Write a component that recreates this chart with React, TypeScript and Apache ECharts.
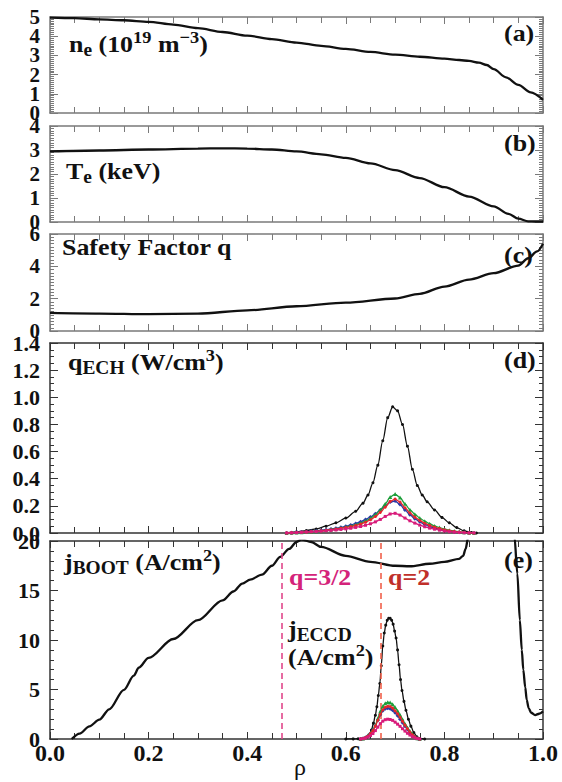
import React, { useEffect, useRef } from 'react';
import * as echarts from 'echarts';

const FONT = 'Liberation Serif';

// ---------- (a) electron density ----------
const neRho = [0, 0.05, 0.1, 0.15, 0.2, 0.25, 0.3, 0.35, 0.4, 0.45, 0.5, 0.55, 0.6, 0.65, 0.7, 0.75, 0.8, 0.83, 0.85, 0.87, 0.886, 0.9, 0.925, 0.95, 0.975, 1.0];
const neVal = [4.97, 4.94, 4.88, 4.83, 4.75, 4.6, 4.42, 4.22, 4.03, 3.85, 3.67, 3.5, 3.34, 3.18, 3.04, 2.93, 2.83, 2.76, 2.71, 2.62, 2.5, 2.28, 1.86, 1.46, 1.07, 0.68];

// ---------- (b) electron temperature ----------
const teRho = [0, 0.1, 0.2, 0.3, 0.35, 0.4, 0.45, 0.5, 0.55, 0.6, 0.65, 0.7, 0.75, 0.8, 0.85, 0.9, 0.93, 0.95, 0.97, 0.985, 1.0];
const teVal = [2.94, 2.98, 3.02, 3.06, 3.07, 3.06, 3.02, 2.94, 2.82, 2.67, 2.44, 2.16, 1.83, 1.45, 1.06, 0.65, 0.34, 0.14, 0.03, 0.02, 0.02];

// ---------- (c) safety factor ----------
const qRho = [0, 0.1, 0.2, 0.3, 0.4, 0.5, 0.6, 0.7, 0.75, 0.8, 0.85, 0.9, 0.95, 0.97, 0.988, 1.0];
const qVal = [1.12, 1.08, 1.04, 1.07, 1.28, 1.53, 1.76, 2.01, 2.3, 2.75, 3.18, 3.58, 4.05, 4.5, 4.92, 5.4];

// ---------- (d) ECH power density ----------
const echRho = [0.48, 0.5, 0.52, 0.54, 0.56, 0.58, 0.6, 0.62, 0.635, 0.645, 0.655, 0.665, 0.675, 0.685, 0.695, 0.705, 0.715, 0.725, 0.735, 0.745, 0.755, 0.765, 0.78, 0.795, 0.81, 0.825, 0.84, 0.855, 0.865];
const echBlack = [0, 0.008, 0.018, 0.03, 0.05, 0.075, 0.11, 0.16, 0.22, 0.28, 0.37, 0.5, 0.68, 0.85, 0.93, 0.9, 0.8, 0.64, 0.47, 0.35, 0.28, 0.23, 0.17, 0.115, 0.075, 0.04, 0.016, 0.004, 0];
const echColRho = [0.48, 0.49, 0.5, 0.51, 0.52, 0.53, 0.54, 0.55, 0.56, 0.57, 0.58, 0.59, 0.6, 0.61, 0.62, 0.63, 0.64, 0.65, 0.66, 0.67, 0.68, 0.69, 0.7, 0.71, 0.72, 0.73, 0.74, 0.75, 0.76, 0.77, 0.78, 0.79, 0.8, 0.81, 0.82, 0.83, 0.84, 0.85, 0.86];
const echGreen = [0, 0.002, 0.004, 0.006, 0.008, 0.01, 0.013, 0.017, 0.021, 0.026, 0.031, 0.037, 0.044, 0.052, 0.061, 0.073, 0.088, 0.108, 0.135, 0.17, 0.215, 0.265, 0.287, 0.262, 0.215, 0.172, 0.138, 0.11, 0.087, 0.068, 0.052, 0.04, 0.03, 0.021, 0.014, 0.009, 0.005, 0.002, 0];
const echRed = [0, 0.002, 0.004, 0.006, 0.008, 0.01, 0.013, 0.016, 0.02, 0.024, 0.029, 0.034, 0.04, 0.047, 0.055, 0.066, 0.079, 0.097, 0.121, 0.152, 0.19, 0.233, 0.25, 0.228, 0.186, 0.148, 0.117, 0.092, 0.072, 0.056, 0.043, 0.033, 0.024, 0.017, 0.011, 0.007, 0.004, 0.001, 0];
const echBlue = [0, 0.002, 0.005, 0.007, 0.01, 0.013, 0.016, 0.02, 0.024, 0.029, 0.035, 0.042, 0.05, 0.059, 0.07, 0.083, 0.099, 0.118, 0.142, 0.17, 0.2, 0.228, 0.235, 0.21, 0.17, 0.135, 0.105, 0.082, 0.063, 0.048, 0.036, 0.027, 0.019, 0.013, 0.008, 0.005, 0.003, 0.001, 0];
const echMagenta = [0, 0.001, 0.003, 0.005, 0.007, 0.009, 0.011, 0.013, 0.016, 0.019, 0.022, 0.026, 0.03, 0.035, 0.041, 0.048, 0.057, 0.068, 0.082, 0.1, 0.122, 0.14, 0.145, 0.132, 0.11, 0.09, 0.073, 0.058, 0.046, 0.036, 0.028, 0.021, 0.015, 0.01, 0.006, 0.004, 0.002, 0.001, 0];

// ---------- (e) bootstrap and ECCD current ----------
const bootRho = [0.044, 0.06, 0.08, 0.1, 0.12, 0.15, 0.17, 0.18, 0.2, 0.25, 0.3, 0.35, 0.372, 0.39, 0.406, 0.43, 0.45, 0.467, 0.485, 0.5, 0.51, 0.53, 0.55, 0.6, 0.65, 0.7, 0.73, 0.77, 0.8, 0.83, 0.838, 0.843, 0.848, 0.86, 0.935, 0.942, 0.948, 0.953, 0.957, 0.96, 0.964, 0.967, 0.971, 0.976, 0.984, 0.992, 1.0];
const bootVal = [0, 0.55, 1.28, 1.95, 3.0, 4.97, 6.4, 7.2, 8.2, 10.1, 12.0, 14.0, 14.9, 15.7, 16.1, 16.6, 17.5, 18.4, 19.2, 19.9, 20.15, 19.9, 19.4, 18.5, 17.9, 17.5, 17.45, 17.7, 17.9, 18.2, 18.5, 19.2, 20.3, 26, 26, 20.5, 16.7, 12.0, 9.0, 7.0, 5.2, 3.94, 3.1, 2.65, 2.42, 2.55, 2.8];
const eccdRho = [0.6, 0.615, 0.625, 0.635, 0.642, 0.648, 0.652, 0.656, 0.66, 0.663, 0.666, 0.669, 0.672, 0.675, 0.678, 0.681, 0.684, 0.687, 0.69, 0.693, 0.696, 0.699, 0.702, 0.705, 0.708, 0.711, 0.714, 0.718, 0.722, 0.727, 0.732, 0.738, 0.744, 0.75, 0.76];
const eccdBlack = [0, 0.01, 0.03, 0.08, 0.16, 0.45, 0.9, 1.6, 2.4, 3.26, 4.4, 5.6, 7.4, 9.4, 10.7, 11.5, 12.0, 12.2, 12.2, 12.0, 11.6, 10.9, 10.2, 9.0, 7.5, 6.0, 4.9, 3.8, 2.9, 2.0, 1.3, 0.65, 0.23, 0.05, 0];
const eccdColRho = [0.63, 0.635, 0.64, 0.645, 0.65, 0.655, 0.66, 0.665, 0.67, 0.675, 0.68, 0.685, 0.69, 0.695, 0.7, 0.705, 0.71, 0.715, 0.72, 0.725, 0.73, 0.735, 0.74, 0.745, 0.75];
const eccdGreen = [0, 0.05, 0.15, 0.35, 0.6, 0.9, 1.4, 2.1, 2.8, 3.3, 3.6, 3.7, 3.68, 3.5, 3.2, 2.85, 2.45, 2.0, 1.55, 1.15, 0.8, 0.5, 0.25, 0.08, 0];
const eccdRed = [0, 0.05, 0.14, 0.3, 0.55, 0.85, 1.3, 1.9, 2.5, 2.95, 3.2, 3.3, 3.28, 3.12, 2.85, 2.55, 2.2, 1.8, 1.4, 1.03, 0.7, 0.43, 0.22, 0.07, 0];
const eccdBlue = [0, 0.06, 0.16, 0.33, 0.58, 0.9, 1.35, 1.9, 2.45, 2.85, 3.05, 3.1, 3.05, 2.9, 2.65, 2.35, 2.0, 1.65, 1.3, 0.95, 0.65, 0.4, 0.2, 0.06, 0];
const eccdMagenta = [0, 0.03, 0.09, 0.2, 0.35, 0.55, 0.85, 1.2, 1.55, 1.8, 1.95, 2.0, 1.97, 1.88, 1.7, 1.5, 1.28, 1.04, 0.8, 0.58, 0.4, 0.24, 0.12, 0.04, 0];

// rational surfaces
const q32Rho = 0.47;
const q2Rho = 0.674;

const zip = (xs: number[], ys: number[]) => xs.map((x, i) => [x, ys[i]]);

const GRIDS = [
  { top: 17, height: 96 },
  { top: 126, height: 96 },
  { top: 234, height: 97 },
  { top: 343, height: 190 },
  { top: 541, height: 198 },
];

const Y_SPECS = [
  { min: 0, max: 5, interval: 1, minor: 10, dec: 0, size: 21, color: '#7a7a7a' },
  { min: 0, max: 4, interval: 1, minor: 10, dec: 0, size: 21, color: '#7a7a7a' },
  { min: 0, max: 6, interval: 2, minor: 10, dec: 0, size: 21, color: '#7a7a7a' },
  { min: 0, max: 1.4, interval: 0.2, minor: 4, dec: 1, size: 22, color: '#333' },
  { min: 0, max: 20, interval: 5, minor: 5, dec: 0, size: 22, color: '#333' },
];

function buildOption() {
  const grid = GRIDS.map((g) => ({ left: 50, width: 493, top: g.top, height: g.height, containLabel: false }));
  const xAxis: any[] = [];
  const yAxis: any[] = [];
  const yLabel = (s: any, show: boolean, keep: (v: number) => boolean) => ({
    show,
    showMinLabel: true, showMaxLabel: true, hideOverlap: false,
    formatter: (v: number) => (keep(v) ? v.toFixed(s.dec) : ''),
    fontFamily: FONT, fontWeight: 'bold', fontSize: s.size, color: '#111', margin: 10,
  });
  GRIDS.forEach((g, i) => {
    const c = Y_SPECS[i].color;
    ['bottom', 'top'].forEach((pos) => {
      xAxis.push({
        type: 'value', gridIndex: i, position: pos, min: 0, max: 1, interval: 0.2,
        axisLine: { show: true, onZero: false, lineStyle: { color: c, width: 1.5 } },
        axisTick: { show: true, inside: true, length: 7, lineStyle: { color: c, width: 1 } },
        minorTick: { show: true, splitNumber: 4, length: 6, lineStyle: { color: c, width: 1 } },
        splitLine: { show: false },
        minorSplitLine: { show: false },
        axisLabel: {
          show: i === 4 && pos === 'bottom',
          showMinLabel: true, showMaxLabel: true,
          formatter: (v: number) => v.toFixed(1),
          fontFamily: FONT, fontWeight: 'bold', fontSize: 24, color: '#111', margin: 2,
        },
      });
    });
    const s = Y_SPECS[i];
    // panel (a) is tightly packed: its left labels are split over two coincident axes (even / odd)
    const keepMain = i === 0 ? (v: number) => Math.round(v) % 2 === 0 : () => true;
    ['left', 'right'].forEach((pos) => {
      yAxis.push({
        type: 'value', gridIndex: i, position: pos, min: s.min, max: s.max, interval: s.interval,
        axisLine: { show: true, onZero: false, lineStyle: { color: c, width: 1.5 } },
        axisTick: { show: true, inside: true, length: 8, lineStyle: { color: c, width: 1 } },
        minorTick: { show: true, splitNumber: s.minor, length: 4, lineStyle: { color: c, width: 1 } },
        splitLine: { show: false },
        minorSplitLine: { show: false },
        axisLabel: yLabel(s, pos === 'left', keepMain),
      });
    });
  });
  // extra label-only axis for panel (a): odd values
  yAxis.push({
    type: 'value', gridIndex: 0, position: 'left', offset: 0,
    min: Y_SPECS[0].min, max: Y_SPECS[0].max, interval: Y_SPECS[0].interval,
    axisLine: { show: false }, axisTick: { show: false }, minorTick: { show: false },
    splitLine: { show: false },
    axisLabel: yLabel(Y_SPECS[0], true, (v: number) => Math.round(v) % 2 === 1),
  });

  const profile = (data: number[][], gi: number, extra: any = {}) => ({
    type: 'line', xAxisIndex: gi * 2, yAxisIndex: gi * 2, data,
    showSymbol: false, smooth: 0.3, smoothMonotone: 'x', clip: true,
    lineStyle: { color: '#111', width: 2.3 }, itemStyle: { color: '#111' }, z: 3,
    ...extra,
  });
  const marked = (data: number[][], gi: number, color: string, symbol: string, size: number, z: number) => ({
    type: 'line', xAxisIndex: gi * 2, yAxisIndex: gi * 2, data,
    showSymbol: true, symbol, symbolSize: size, smooth: 0.3, smoothMonotone: 'x', clip: true,
    lineStyle: { color, width: 1.3 }, itemStyle: { color }, z,
  });

  const series: any[] = [
    profile(zip(neRho, neVal), 0),
    profile(zip(teRho, teVal), 1),
    profile(zip(qRho, qVal), 2),
    marked(zip(echRho, echBlack), 3, '#111', 'circle', 3, 4),
    marked(zip(echColRho, echBlue), 3, '#2a3aa8', 'diamond', 4, 5),
    marked(zip(echColRho, echGreen), 3, '#1d9e3a', 'triangle', 4, 6),
    marked(zip(echColRho, echRed), 3, '#e5262a', 'circle', 3, 7),
    marked(zip(echColRho, echMagenta), 3, '#d81b7a', 'rect', 3, 8),
    profile(zip(bootRho, bootVal), 4, {
      markLine: {
        silent: true, symbol: ['none', 'none'], label: { show: false }, animation: false,
        data: [
          { xAxis: q32Rho, lineStyle: { color: '#e0468a', type: [6, 4], width: 1.6 } },
          { xAxis: q2Rho, lineStyle: { color: '#f0604a', type: [6, 4], width: 1.6 } },
        ],
      },
    }),
    marked(zip(eccdRho, eccdBlack), 4, '#111', 'circle', 3, 4),
    marked(zip(eccdColRho, eccdBlue), 4, '#2a3aa8', 'diamond', 4, 5),
    marked(zip(eccdColRho, eccdGreen), 4, '#1d9e3a', 'triangle', 4, 6),
    marked(zip(eccdColRho, eccdRed), 4, '#e5262a', 'circle', 3, 7),
    marked(zip(eccdColRho, eccdMagenta), 4, '#d81b7a', 'rect', 3, 8),
  ];

  const richStyle = (fill: string) => ({
    m: { fontSize: 24, fontWeight: 'bold', fontFamily: FONT, lineHeight: 30, fill, color: fill },
    b: { fontSize: 18, fontWeight: 'bold', fontFamily: FONT, lineHeight: 18, verticalAlign: 'bottom', fill, color: fill },
    p: { fontSize: 17, fontWeight: 'bold', fontFamily: FONT, lineHeight: 17, verticalAlign: 'top', fill, color: fill },
  });
  const label = (x: number, y: number, text: string, fill = '#111', sx = 1.08) => ({
    type: 'text', x, y, scaleX: sx, z: 100, silent: true,
    style: {
      text, rich: richStyle(fill), fill,
      fontFamily: FONT, fontSize: 24, fontWeight: 'bold',
      textAlign: 'left', align: 'left', textVerticalAlign: 'top', verticalAlign: 'top',
    },
  });

  const graphic = [
    label(69, 28.5, '{m|n}{b|e}{m| (10}{p|19}{m| m}{p|−3}{m|)}'),
    label(66, 155.5, '{m|T}{b|e}{m| (keV)}'),
    label(62, 231.5, '{m|Safety Factor q}'),
    label(68, 347, '{m|q}{b|ECH}{m| (W/cm}{p|3}{m|)}'),
    label(64, 546.5, '{m|j}{b|BOOT}{m| (A/cm}{p|2}{m|)}'),
    label(288, 613.5, '{m|j}{b|ECCD}'),
    label(288, 641.5, '{m|(A/cm}{p|2}{m|)}'),
    label(289, 561.5, '{m|q=3/2}', '#d4237a'),
    label(388, 561.5, '{m|q=2}', '#c0302a'),
    label(504, 17.5, '{m|(a)}'),
    label(504, 127.5, '{m|(b)}'),
    label(504, 239.5, '{m|(c)}'),
    label(504, 344.5, '{m|(d)}'),
    label(504, 544.5, '{m|(e)}'),
    {
      type: 'text', x: 300, y: 767, z: 100, silent: true,
      style: {
        text: 'ρ', fontFamily: FONT, fontSize: 24, fill: '#111',
        textAlign: 'center', align: 'center', textVerticalAlign: 'middle', verticalAlign: 'middle',
      },
    },
  ];

  return {
    animation: false,
    backgroundColor: '#ffffff',
    textStyle: { fontFamily: FONT },
    grid, xAxis, yAxis, series, graphic,
  };
}

export default function App() {
  const ref = useRef<HTMLDivElement>(null);
  useEffect(() => {
    if (!ref.current) return;
    const chart = echarts.init(ref.current, null, { renderer: 'svg' });
    chart.setOption(buildOption() as any);
    return () => chart.dispose();
  }, []);
  return (
    <div
      ref={ref}
      style={{ position: 'fixed', left: 0, top: 0, width: 562, height: 782, background: '#fff' }}
    />
  );
}
